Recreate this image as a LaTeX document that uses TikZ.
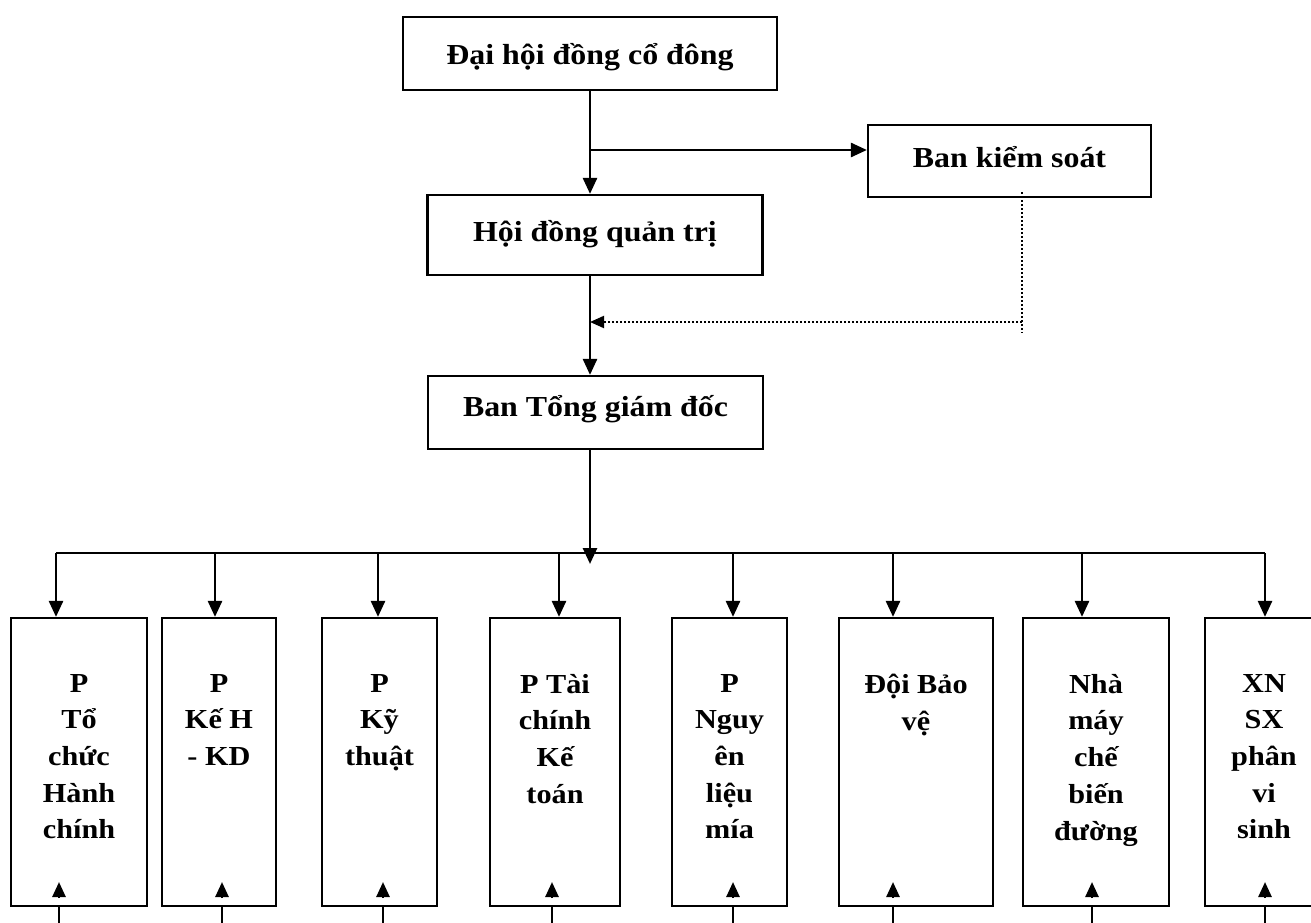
\documentclass[tikz,border=0pt]{standalone}
\usepackage{fontspec}
\setmainfont{Liberation Serif}[FakeStretch=1.1]
\usetikzlibrary{arrows.meta}
\begin{document}
\begin{tikzpicture}[x=1pt,y=-1pt,
  box/.style={draw, line width=2.2pt, inner sep=0pt},
  topbox/.style={box, font=\fontsize{29}{34}\selectfont\bfseries, text height=26pt, text depth=13pt},
  unitbox/.style={box, minimum height=288pt},
  unittext/.style={anchor=north, inner sep=0pt, align=center, font=\fontsize{27.5}{36.7}\selectfont\bfseries},
  plain/.style={line width=2.6pt},
  arr/.style={line width=2.6pt, -{Triangle[length=16pt,width=14pt]}},
  arrsmall/.style={line width=2.6pt, -{Triangle[length=15pt,width=13pt]}},
  dots/.style={line width=2pt, dash pattern=on 2pt off 2pt}
]
\useasboundingbox (0,0) rectangle (1311,923);
\clip (0,0) rectangle (1311,923);

% upper level
\node[topbox, text depth=3pt, minimum width=374pt, minimum height=73pt] (dh) at (590,53.5) {Đại hội đồng cổ đông};
\node[topbox, minimum width=283pt, minimum height=72pt] (ks) at (1009.5,161) {Ban kiểm soát};
\node[topbox, minimum width=335pt, minimum height=80pt] (hd) at (595,235) {Hội đồng quản trị};
\node[topbox, text depth=19pt, minimum width=335pt, minimum height=73pt] (tg) at (595.5,412.5) {Ban Tổng giám đốc};

\draw[arr] (dh.south) -- (dh.south |- hd.north);
\coordinate (br) at (590,150);
\draw[arr] (br) -- (br -| ks.west);
\draw[arr] (dh.south |- hd.south) -- (dh.south |- tg.north);

% dotted control line
\coordinate (kd1) at (1022,192);
\coordinate (kd2) at (1022,333);
\coordinate (kd3) at (1022,322);
\draw[dots] (kd1) -- (kd2);
\draw[dots, -{Triangle[length=14pt,width=12pt]}] (kd3) -- (kd3 -| dh.south);

% lower units
\node[unitbox, minimum width=136pt] (p1) at (79,762) {};
\node[unitbox, minimum width=114pt] (p2) at (219,762) {};
\node[unitbox, minimum width=115pt] (p3) at (379.5,762) {};
\node[unitbox, minimum width=130pt] (p4) at (555,762) {};
\node[unitbox, minimum width=115pt] (p5) at (729.5,762) {};
\node[unitbox, minimum width=154pt] (p6) at (916,762) {};
\node[unitbox, minimum width=146pt] (p7) at (1096,762) {};
\node[unitbox, minimum width=118pt] (p8) at (1264,762) {};

\node[unittext] (q1) at ([yshift=-57pt]p1.north) {P\\Tổ\\chức\\Hành\\chính};
\node[unittext] (q2) at ([yshift=-57pt]p2.north) {P\\Kế H\\- KD};
\node[unittext] (q3) at ([yshift=-57pt]p3.north) {P\\Kỹ\\thuật};
\node[unittext] (q4) at ([yshift=-57pt]p4.north) {P Tài\\chính\\Kế\\toán};
\node[unittext] (q5) at ([yshift=-57pt]p5.north) {P\\Nguy\\ên\\liệu\\mía};
\node[unittext] (q6) at ([yshift=-57pt]p6.north) {Đội Bảo\\vệ};
\node[unittext] (q7) at ([yshift=-57pt]p7.north) {Nhà\\máy\\chế\\biến\\đường};
\node[unittext] (q8) at ([yshift=-57pt]p8.north) {XN\\SX\\phân\\vi\\sinh};

% bus
\coordinate (busc) at (590,564);
\draw[arr] (dh.south |- tg.south) -- (busc);
\foreach \i/\x in {1/56,2/215,3/378,4/559,5/733,6/893,7/1082,8/1265}{
  \coordinate (b\i) at (\x,553);
}
\draw[plain] (b1) -- (b8);
\foreach \i in {1,...,8}{
  \draw[arr] (b\i) -- (b\i |- p\i.north);
}

% incoming arrows from below
\foreach \i/\x in {1/59,2/222,3/383,4/552,5/733,6/893,7/1092,8/1265}{
  \coordinate (u\i) at (\x,923);
  \coordinate (a\i) at (\x,898);
  \draw[plain] (u\i) -- (u\i |- p\i.south);
  \draw[arrsmall] (a\i) -- ++(0,-16);
}
\end{tikzpicture}
\end{document}
